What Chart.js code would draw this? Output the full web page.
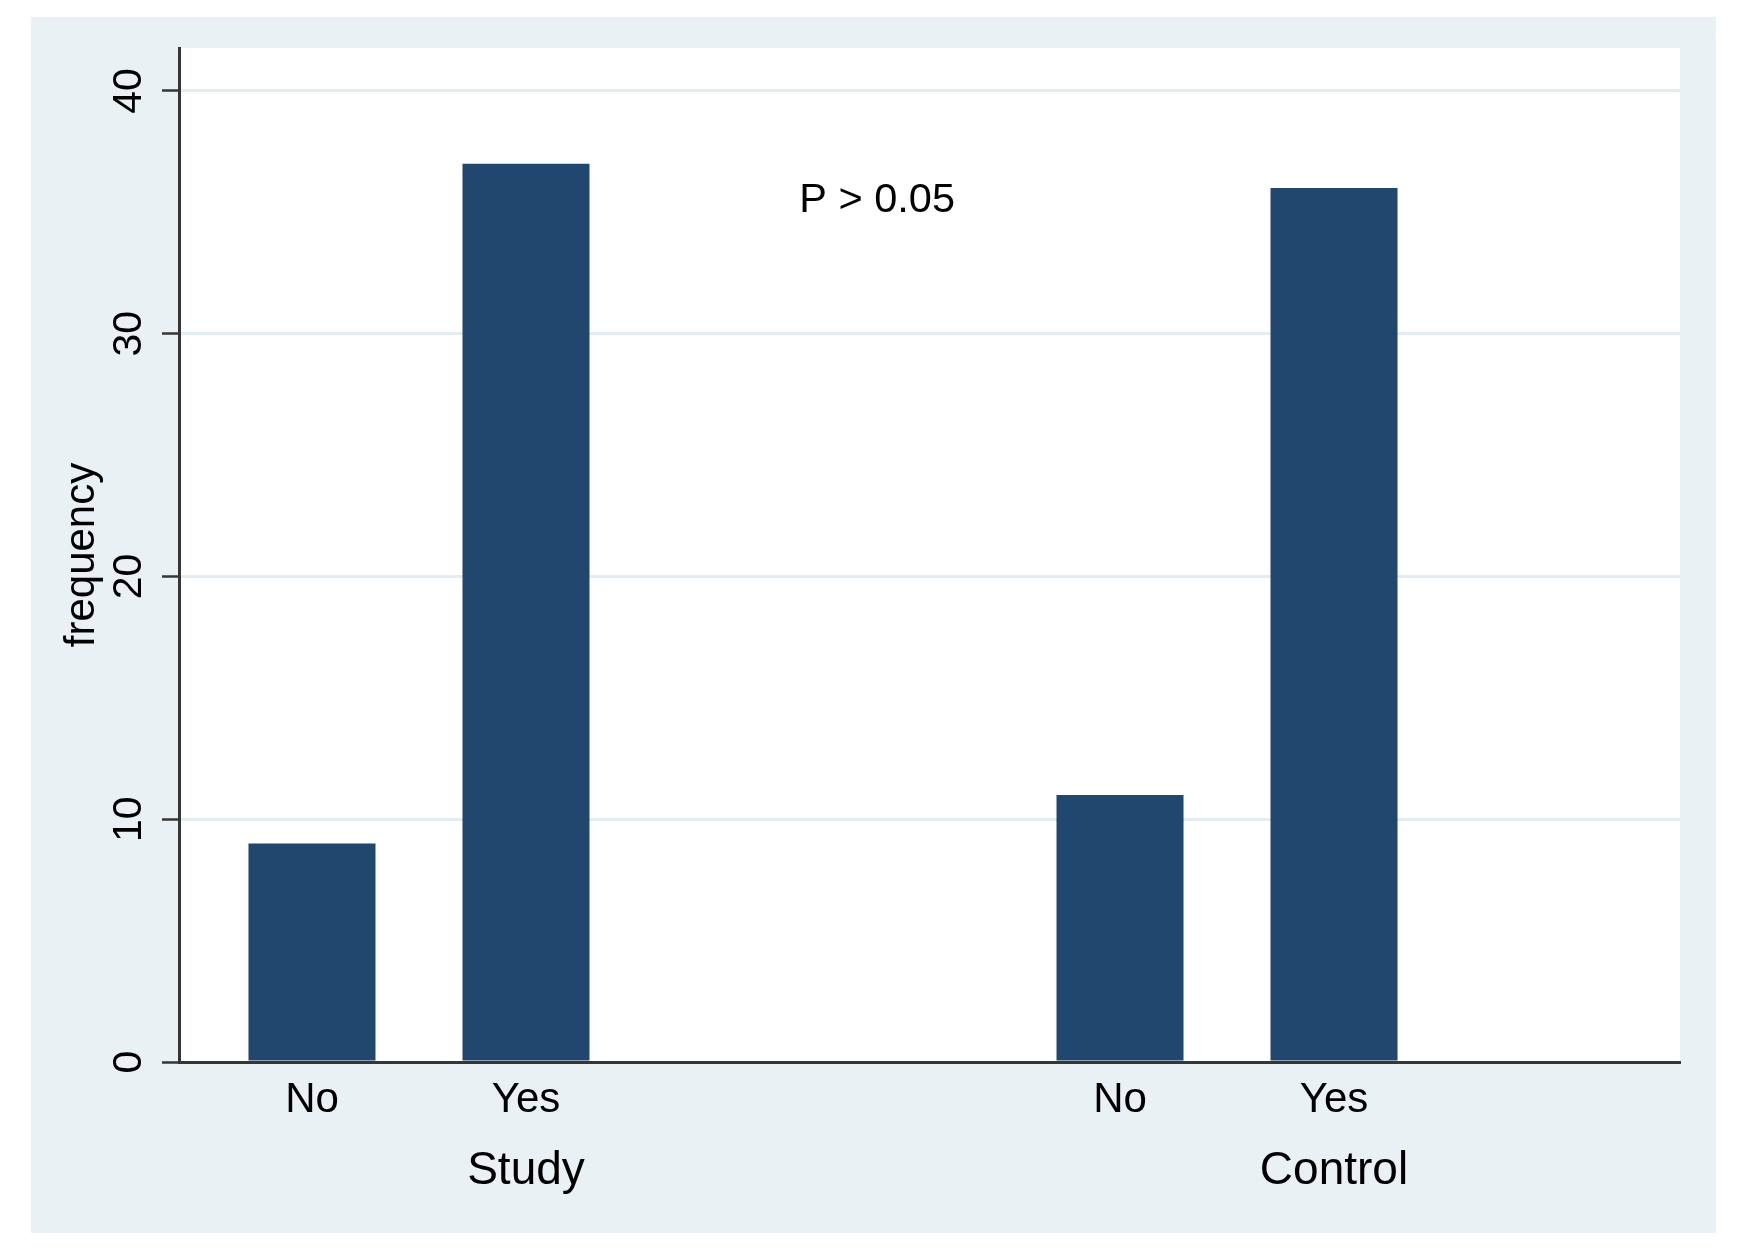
<!DOCTYPE html>
<html>
<head>
<meta charset="utf-8">
<script src="https://cdn.jsdelivr.net/npm/chart.js@4.4.1/dist/chart.umd.min.js"></script>
<style>
  html, body { margin: 0; padding: 0; background: #ffffff; }
  #wrap { width: 1748px; height: 1254px; }
</style>
</head>
<body>
<div id="wrap"><canvas id="c" width="1748" height="1254"></canvas></div>
<script>
// ---- data ----
const groups = ['Study', 'Control'];
const answers = ['No', 'Yes'];
const noCounts = [9, 11];
const yesCounts = [37, 36];
const yTicks = [0, 10, 20, 30, 40];
const yTitle = 'frequency';
const noteText = 'P > 0.05';

const seriesValues = [noCounts, yesCounts];
const FONT = "'Liberation Sans', Arial, Helvetica, sans-serif";
const BAR = '#22476e';
const AXIS = '#363636';

const datasets = answers.map((a, di) => ({
  label: a,
  data: groups.map((g, gi) => ({ x: gi + 1, y: seriesValues[di][gi] })),
  backgroundColor: BAR,
  borderWidth: 0,
  categoryPercentage: 0.5297,
  barPercentage: 0.5935
}));

const backgroundPlugin = {
  id: 'bg',
  beforeDraw(chart) {
    const { ctx, chartArea } = chart;
    ctx.save();
    ctx.fillStyle = '#ffffff';
    ctx.fillRect(0, 0, chart.width, chart.height);
    ctx.fillStyle = '#e9f1f4';
    ctx.fillRect(31, 17, 1716 - 31, 1233 - 17);
    ctx.fillStyle = '#ffffff';
    ctx.fillRect(chartArea.left, chartArea.top, chartArea.right - chartArea.left, chartArea.bottom - chartArea.top);
    ctx.restore();
  }
};

const labelsPlugin = {
  id: 'subLabels',
  afterDraw(chart) {
    const { ctx, chartArea, scales } = chart;
    ctx.save();
    ctx.fillStyle = '#000';
    ctx.textAlign = 'center';
    ctx.textBaseline = 'alphabetic';
    ctx.font = '42px ' + FONT;
    chart.data.datasets.forEach((ds, di) => {
      const meta = chart.getDatasetMeta(di);
      meta.data.forEach(bar => {
        ctx.fillText(answers[di], bar.x, chartArea.bottom + 50);
      });
    });
    ctx.font = '41.5px ' + FONT;
    ctx.fillText(noteText, scales.x.getPixelForValue(1.567), scales.y.getPixelForValue(35));
    ctx.restore();
  }
};

new Chart(document.getElementById('c'), {
  type: 'bar',
  data: { datasets },
  plugins: [backgroundPlugin, labelsPlugin],
  options: {
    responsive: false,
    animation: false,
    devicePixelRatio: 1,
    layout: { padding: { top: 48, right: 68, left: 0, bottom: 0 } },
    plugins: { legend: { display: false }, tooltip: { enabled: false } },
    scales: {
      x: {
        type: 'linear',
        min: 0.703,
        max: 2.5606,
        offset: false,
        afterBuildTicks: s => { s.ticks = groups.map((g, i) => ({ value: i + 1 })); },
        afterFit: s => { s.height = 192; },
        grid: { display: false, drawTicks: false },
        border: { display: true, color: AXIS, width: 3, z: 1 },
        ticks: {
          callback: (v, i) => groups[i],
          font: { family: FONT, size: 46 },
          color: '#000',
          padding: 82,
          labelOffset: 107,
          maxRotation: 0,
          minRotation: 0
        }
      },
      y: {
        min: 0,
        max: 41.77,
        afterBuildTicks: s => { s.ticks = yTicks.map(v => ({ value: v })); },
        afterFit: s => { s.width = 179; },
        grid: {
          color: c => (c.tick && c.tick.value === 0) ? 'rgba(0,0,0,0)' : '#e3edf1',
          lineWidth: 3,
          tickColor: AXIS,
          tickWidth: 2.5,
          tickLength: 17,
          drawTicks: true
        },
        border: { display: true, color: AXIS, width: 3, z: 1 },
        ticks: {
          font: { family: FONT, size: 41 },
          color: '#000',
          minRotation: 90,
          maxRotation: 90,
          crossAlign: 'center',
          padding: 10
        },
        title: {
          display: true,
          text: yTitle,
          font: { family: FONT, size: 42 },
          color: '#000',
          padding: { top: 57, bottom: 0 }
        }
      }
    }
  }
});
</script>
</body>
</html>
